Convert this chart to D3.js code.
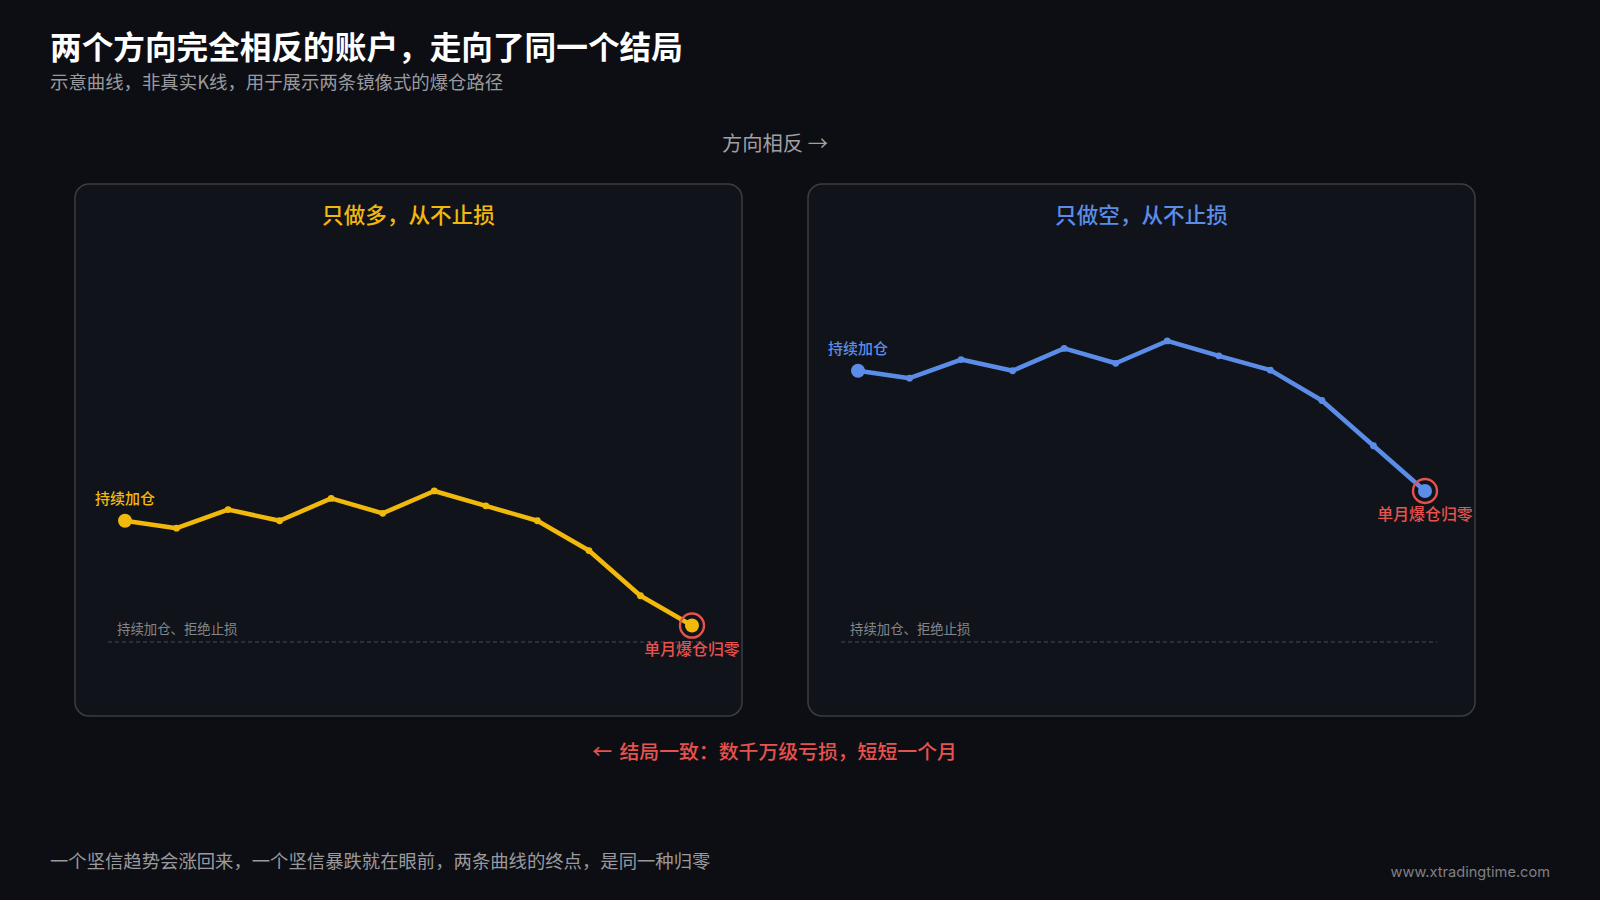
<!DOCTYPE html>
<html>
<head>
<meta charset="utf-8">
<script src="https://cdn.jsdelivr.net/npm/d3@7"></script>
<style>
html,body{margin:0;padding:0;background:#0d0e13;}
svg{display:block;}
text{font-family:"Noto Sans CJK SC","Noto Sans",sans-serif;}
</style>
</head>
<body>
<svg width="1600" height="900"></svg>
<script>
// 示意曲线的数值（0-100，对应面板高度），从图上读出来的
var steps = [0,1,2,3,4,5,6,7,8,9,10,11];
var longValues = [36.7,35.3,38.8,36.7,40.9,38.1,42.3,39.5,36.7,31.1,22.6,17.0];
var shortValues = [64.9,63.5,67.0,64.9,69.1,66.3,70.5,67.7,65.0,59.3,50.8,42.3];
var panelTitles = ['只做多，从不止损','只做空，从不止损'];
var startLabel = '持续加仓';
var endLabel = '单月爆仓归零';
var noteLabel = '持续加仓、拒绝止损';

var gold = '#f0b90b', blue = '#5b8de8', red = '#e8524e';
var svg = d3.select('svg');
var W = 667, H = 532;

function txt(parent, x, y, s, size, fill, weight, anchor) {
  return parent.append('text')
    .attr('x', x).attr('y', y)
    .attr('dominant-baseline', 'central')
    .attr('text-anchor', anchor || 'start')
    .attr('font-size', size)
    .attr('font-weight', weight || 400)
    .attr('fill', fill)
    .text(s);
}

var xScale = d3.scalePoint().domain(steps).range([50, W - 50]);
var yScale = d3.scaleLinear().domain([0, 100]).range([H, 0]);
var line = d3.line()
  .x(function (d, i) { return xScale(i); })
  .y(function (d) { return yScale(d); });

function drawPanel(px, py, title, values, color, labelColor) {
  var g = svg.append('g').attr('transform', 'translate(' + px + ',' + py + ')');
  g.append('rect')
    .attr('x', 0).attr('y', 0).attr('width', W).attr('height', H)
    .attr('rx', 14)
    .attr('fill', '#10131a')
    .attr('stroke', '#3a3d44')
    .attr('stroke-width', 1.5);
  txt(g, W / 2, 29, title, 21.6, color, 500, 'middle');

  // 虚线和说明文字
  g.append('line')
    .attr('x1', 33).attr('x2', W - 38)
    .attr('y1', 458).attr('y2', 458)
    .attr('stroke', '#4a4d52')
    .attr('stroke-width', 1.2)
    .attr('stroke-dasharray', '4 3');
  txt(g, 42, 443.5, noteLabel, 13.4, '#84868a');

  g.append('path')
    .attr('d', line(values))
    .attr('fill', 'none')
    .attr('stroke', color)
    .attr('stroke-width', 4.5)
    .attr('stroke-linejoin', 'round');

  g.selectAll('.dot')
    .data(values)
    .enter()
    .append('circle')
    .attr('class', 'dot')
    .attr('cx', function (d, i) { return xScale(i); })
    .attr('cy', function (d) { return yScale(d); })
    .attr('r', function (d, i) { return (i === 0 || i === values.length - 1) ? 7 : 3.4; })
    .attr('fill', color);

  var last = values.length - 1;
  g.append('circle')
    .attr('cx', xScale(last)).attr('cy', yScale(values[last]))
    .attr('r', 12)
    .attr('fill', 'none')
    .attr('stroke', red)
    .attr('stroke-width', 2.4);

  txt(g, xScale(0), yScale(values[0]) - 23.5, startLabel, 15, labelColor, 500, 'middle');
  txt(g, xScale(last), yScale(values[last]) + 22.5, endLabel, 15.9, red, 500, 'middle');
}

drawPanel(75, 184, panelTitles[0], longValues, gold, gold);
drawPanel(808, 184, panelTitles[1], shortValues, blue, blue);

txt(svg, 50, 45, '两个方向完全相反的账户，走向了同一个结局', 31.65, '#ffffff', 700);
txt(svg, 50, 80.5, '示意曲线，非真实K线，用于展示两条镜像式的爆仓路径', 18.4, '#9a9a9e');
txt(svg, 775, 141.5, '方向相反 →', 20.3, '#a0a0a4', 400, 'middle');
var endNote = txt(svg, 774.5, 750, '← ', 19.85, red, 500, 'middle');
endNote.append('tspan').attr('dx', 3).text('结局一致：数千万级亏损，短短一个月');
txt(svg, 50, 859.5, '一个坚信趋势会涨回来，一个坚信暴跌就在眼前，两条曲线的终点，是同一种归零', 18.35, '#9a9a9e');
txt(svg, 1550, 871.5, 'www.xtradingtime.com', 14.6, '#808084', 400, 'end').style('font-family', 'Inter');
</script>
</body>
</html>
